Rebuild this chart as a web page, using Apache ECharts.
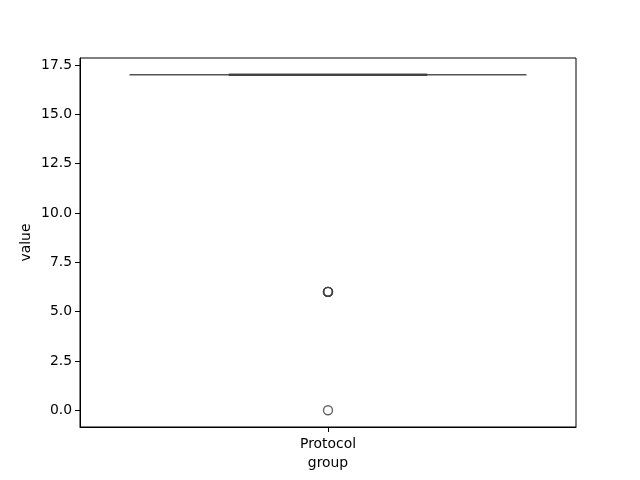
<!DOCTYPE html>
<html>
<head>
<meta charset="utf-8">
<script src="https://cdn.jsdelivr.net/npm/echarts@6/dist/echarts.min.js"></script>
<style>html,body{margin:0;padding:0;background:#fff}#c{width:640px;height:480px}</style>
</head>
<body>
<div id="c"></div>
<script>
const categories = ['Protocol'];
// [min, Q1, median, Q3, max]
const boxStats = [[17, 17, 17, 17, 17]];
const outliers = [6, 6, 6, 6, 0];
const yTicks = [0, 2.5, 5, 7.5, 10, 12.5, 15, 17.5];
const yMin = -0.85, yMax = 17.85;

const chart = echarts.init(document.getElementById('c'), null, {renderer: 'canvas'});
const font = 'DejaVu Sans';
chart.setOption({
  animation: false,
  backgroundColor: '#fff',
  grid: {left: 80, right: 64, top: 58, bottom: 53, show: true, borderColor: '#000', borderWidth: 1, backgroundColor: 'transparent'},
  xAxis: {
    type: 'category', data: categories, boundaryGap: true,
    name: 'group', nameLocation: 'middle', nameGap: 29,
    nameTextStyle: {fontFamily: font, fontSize: 13.9, color: '#000'},
    axisLine: {show: true, onZero: false, lineStyle: {color: '#000', width: 1}},
    axisTick: {show: true, alignWithLabel: true, length: 5, lineStyle: {color: '#000'}},
    axisLabel: {fontFamily: font, fontSize: 13.9, color: '#000', margin: 10},
    splitLine: {show: false}
  },
  yAxis: {
    type: 'value', min: yMin, max: yMax,
    name: 'value', nameLocation: 'middle', nameGap: 47, nameRotate: 90, nameMoveOverlap: false,
    nameTextStyle: {fontFamily: font, fontSize: 13.9, color: '#000'},
    axisLine: {show: true, onZero: false, lineStyle: {color: '#000', width: 1}},
    axisTick: {show: true, length: 5, lineStyle: {color: '#000'}, customValues: yTicks},
    axisLabel: {fontFamily: font, fontSize: 13.9, color: '#000', margin: 8, customValues: yTicks,
      formatter: v => Number(v).toFixed(1)},
    splitLine: {show: false}
  },
  series: [
    {
      type: 'boxplot',
      data: boxStats,
      boxWidth: [397, 397],
      itemStyle: {color: '#3274a1', borderColor: '#555555', borderWidth: 1.5},
      z: 2
    },
    {
      type: 'custom',
      data: boxStats.map((s, i) => [i, s[0], s[4]]),
      renderItem: function (params, api) {
        const band = api.size([1, 0])[0];
        const half = band * 0.2;
        const lo = api.coord([api.value(0), api.value(1)]);
        const hi = api.coord([api.value(0), api.value(2)]);
        return {
          type: 'group',
          children: [
            {type: 'line', shape: {x1: lo[0] - half, y1: lo[1], x2: lo[0] + half, y2: lo[1]}, style: {stroke: '#3f3f3f', lineWidth: 2}},
            {type: 'line', shape: {x1: hi[0] - half, y1: hi[1], x2: hi[0] + half, y2: hi[1]}, style: {stroke: '#3f3f3f', lineWidth: 2}}
          ]
        };
      },
      z: 3
    },
    {
      type: 'scatter',
      data: outliers.map(v => [0, v]),
      symbol: 'circle', symbolSize: 9,
      itemStyle: {color: 'rgba(0,0,0,0)', borderColor: '#3f3f3f', borderWidth: 1.4},
      z: 4
    }
  ]
});
</script>
</body>
</html>
